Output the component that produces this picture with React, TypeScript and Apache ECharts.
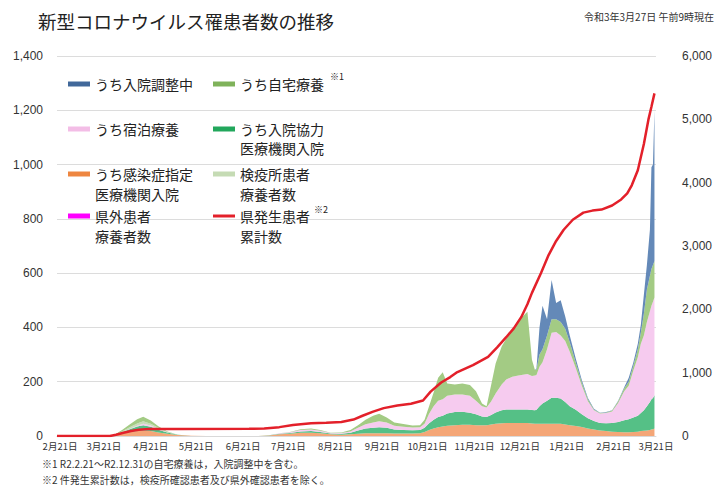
import React, { useEffect, useRef } from 'react';
import * as echarts from 'echarts';

// ---- data ----
const sampleDates = [
  '2020-02-19','2020-03-24','2020-03-28','2020-04-02','2020-04-07','2020-04-12','2020-04-16','2020-04-21','2020-04-26','2020-05-02',
  '2020-05-09','2020-05-18','2020-05-28','2020-07-01','2020-07-08','2020-07-15','2020-07-22','2020-07-29','2020-08-05','2020-08-11',
  '2020-08-18','2020-08-25','2020-08-31','2020-09-05','2020-09-10','2020-09-15','2020-09-19','2020-09-24','2020-09-29','2020-10-05',
  '2020-10-11','2020-10-16','2020-10-19','2020-10-22','2020-10-25','2020-10-28','2020-10-31','2020-11-03','2020-11-08','2020-11-13',
  '2020-11-18','2020-11-22','2020-11-26','2020-11-29','2020-12-02','2020-12-05','2020-12-09','2020-12-12','2020-12-16','2020-12-20',
  '2020-12-23','2020-12-26','2020-12-29','2020-12-31','2021-01-01','2021-01-03','2021-01-05','2021-01-08','2021-01-11','2021-01-14',
  '2021-01-17','2021-01-20','2021-01-23','2021-01-27','2021-01-31','2021-02-04','2021-02-08','2021-02-12','2021-02-16','2021-02-20',
  '2021-02-24','2021-02-28','2021-03-03','2021-03-06','2021-03-09','2021-03-11','2021-03-13','2021-03-15','2021-03-17','2021-03-18',
  '2021-03-19','2021-03-20'
];

// うち感染症指定医療機関入院
const kansenshoShitei = [
  0,0,3,8,14,18,20,18,13,8,
  4,1,0,0,2,6,8,12,12,10,
  6,5,6,8,10,10,10,10,9,9,
  9,10,15,22,28,32,35,38,40,41,
  41,40,40,40,42,45,47,48,48,48,
  48,48,46,45,45,45,45,45,45,45,
  45,42,40,37,33,28,24,20,18,16,
  15,14,14,15,16,18,19,20,22,24,
  25,28
];
// うち入院協力医療機関入院
const nyuinKyoryoku = [
  0,0,1,6,11,17,20,16,10,5,
  1,0,0,0,1,2,3,5,6,5,
  3,3,6,12,18,20,22,20,15,13,
  12,12,15,25,32,38,40,45,48,48,
  45,40,32,30,35,42,48,50,50,50,
  50,50,50,50,52,65,75,85,96,96,
  93,83,70,60,47,37,31,28,29,32,
  37,44,48,53,59,67,76,90,103,111,
  115,122
];
// うち宿泊療養
const shukuhaku = [
  0,0,0,0,1,3,5,5,3,1,
  0,0,0,0,0,2,3,5,6,4,
  2,3,5,10,15,20,22,20,14,12,
  10,10,15,35,50,60,60,65,65,64,
  62,50,38,35,50,70,95,110,120,125,
  128,130,125,128,128,145,152,190,239,242,
  232,225,200,153,105,63,40,35,38,42,
  70,107,123,172,215,255,275,310,335,345,
  355,360
];
// 検疫所患者療養者数
const kenekijo = [
  0,0,0,3,6,8,9,6,4,1,
  0,0,0,0,0,0,0,0,0,0,
  0,0,0,0,0,0,0,0,0,0,
  0,0,0,0,0,0,0,0,0,0,
  0,0,0,0,0,0,0,0,0,0,
  0,0,0,0,0,0,0,0,0,0,
  0,0,0,0,0,0,0,0,0,0,
  0,0,0,0,0,0,0,0,0,0,
  0,0
];
// 県外患者療養者数 (no visible values)
const kengai: number[] = [];
// うち自宅療養
const jitaku = [
  0,0,1,5,10,16,17,12,6,2,
  0,0,0,0,0,0,1,3,4,3,
  1,2,5,10,17,25,28,18,12,10,
  8,8,15,28,50,85,100,45,37,40,
  40,35,10,5,60,110,140,150,170,200,
  215,230,60,20,20,45,48,50,50,47,
  50,45,35,20,12,7,3,2,2,4,
  6,10,15,18,30,40,80,120,130,135,
  135,135
];
// うち入院調整中
const chouseichu = [
  0,0,0,0,0,0,0,0,0,0,
  0,0,0,0,0,0,0,0,0,0,
  0,0,0,0,0,0,0,0,0,0,
  0,0,0,0,0,0,0,0,0,0,
  0,0,0,0,0,0,0,0,0,0,
  0,0,0,0,5,100,160,60,145,60,
  80,45,25,15,8,5,2,1,1,1,
  2,5,15,12,20,30,70,90,170,375,
  370,555
];

// 県発生患者累計数 (right axis)
const cumDates = [
  '2020-02-19','2020-03-25','2020-03-29','2020-04-03','2020-04-08','2020-04-13','2020-04-20','2020-05-10','2020-06-25','2020-07-05',
  '2020-07-15','2020-07-24','2020-08-05','2020-08-15','2020-08-25','2020-09-02','2020-09-08','2020-09-15','2020-09-22','2020-10-01',
  '2020-10-10','2020-10-18','2020-10-23','2020-10-30','2020-11-05','2020-11-09','2020-11-20','2020-11-30','2020-12-06','2020-12-12',
  '2020-12-17','2020-12-22','2020-12-26','2020-12-29','2021-01-04','2021-01-09','2021-01-14','2021-01-19','2021-01-25','2021-02-01',
  '2021-02-07','2021-02-13','2021-02-20','2021-02-26','2021-03-02','2021-03-05','2021-03-09','2021-03-13','2021-03-16','2021-03-18',
  '2021-03-20'
];
const cumValues = [
  0,1,20,50,80,100,110,112,113,118,
  140,175,200,210,222,260,320,385,440,480,
  510,560,700,845,930,1000,1120,1250,1400,1560,
  1700,1880,2080,2260,2575,2857,3080,3256,3415,3527,
  3559,3575,3639,3735,3830,3958,4197,4612,4995,5200,
  5410
];

const xTickDates = [
  '2020-02-21','2020-03-21','2020-04-21','2020-05-21','2020-06-21','2020-07-21','2020-08-21',
  '2020-09-21','2020-10-21','2020-11-21','2020-12-21','2021-01-21','2021-02-21','2021-03-21'
];
const xRange = ['2020-02-19', '2021-03-21'];

const JP = "'Noto Sans CJK JP', 'Noto Sans', sans-serif";
const NUM = "'Liberation Sans', Arial, sans-serif";

const toTs = (s: string) => {
  const [y, m, d] = s.split('-').map(Number);
  return new Date(y, m - 1, d).getTime();
};

// fill colours of the stacked areas
const COLORS: Record<string, string> = {
  'うち入院調整中': '#6489b8',
  'うち自宅療養': '#a3cb84',
  'うち宿泊療養': '#f6cbef',
  'うち入院協力医療機関入院': '#55c086',
  'うち感染症指定医療機関入院': '#f4a677',
  '検疫所患者療養者数': '#c8ddb9',
  '県外患者療養者数': '#ff00ff',
  '県発生患者累計数': '#e3202a',
};
// legend icon colours
const ICON_COLORS: Record<string, string> = {
  'うち入院調整中': '#41689a',
  'うち自宅療養': '#7fb25a',
  'うち宿泊療養': '#f3bde6',
  'うち入院協力医療機関入院': '#22a75c',
  'うち感染症指定医療機関入院': '#ee8640',
  '検疫所患者療養者数': '#c5dbb4',
  '県外患者療養者数': '#ff00ff',
  '県発生患者累計数': '#e3202a',
};

const FIRST_LINE: Record<string, string> = {
  'うち入院調整中': 'うち入院調整中',
  'うち自宅療養': 'うち自宅療養',
  'うち宿泊療養': 'うち宿泊療養',
  'うち入院協力医療機関入院': 'うち入院協力',
  'うち感染症指定医療機関入院': 'うち感染症指定',
  '検疫所患者療養者数': '検疫所患者',
  '県外患者療養者数': '県外患者',
  '県発生患者累計数': '県発生患者',
};

const legendLayout = [
  { name: 'うち入院調整中', left: 68, cy: 85 },
  { name: 'うち自宅療養', left: 213, cy: 85 },
  { name: 'うち宿泊療養', left: 68, cy: 130 },
  { name: 'うち入院協力医療機関入院', left: 213, cy: 130 },
  { name: 'うち感染症指定医療機関入院', left: 68, cy: 175 },
  { name: '検疫所患者療養者数', left: 213, cy: 175 },
  { name: '県外患者療養者数', left: 68, cy: 217 },
  { name: '県発生患者累計数', left: 213, cy: 217 },
];

const secondLines = [
  { text: '医療機関入院', x: 240, y: 148 },
  { text: '医療機関入院', x: 95, y: 194 },
  { text: '療養者数', x: 240, y: 194 },
  { text: '療養者数', x: 95, y: 236 },
  { text: '累計数', x: 240, y: 236 },
];

// value first (stacked dimension), date second; encode maps them to y / x
function areaSeries(name: string, values: number[]) {
  return {
    name,
    type: 'line',
    stack: 'total',
    color: COLORS[name],
    symbol: 'none',
    showSymbol: false,
    lineStyle: { width: 0 },
    areaStyle: { color: COLORS[name], opacity: 1 },
    encode: { x: 1, y: 0 },
    data: values.map((v, i) => [v, toTs(sampleDates[i])]),
    z: 2,
  };
}

export default function App() {
  const ref = useRef<HTMLDivElement>(null);
  useEffect(() => {
    if (!ref.current) return;
    const chart = echarts.init(ref.current, null, { renderer: 'svg' });
    const legends = legendLayout.map((l) => ({
      left: l.left,
      top: l.cy - 8,
      padding: 0,
      orient: 'horizontal',
      icon: 'rect',
      itemWidth: 22,
      itemHeight: l.name === '県発生患者累計数' ? 3 : 5,
      itemStyle: { borderWidth: 0 },
      selectedMode: false,
      data: [{ name: l.name, itemStyle: { color: ICON_COLORS[l.name], borderWidth: 0 } }],
      formatter: (n: string) => FIRST_LINE[n] || n,
      textStyle: { fontSize: 14, color: '#222', fontFamily: JP },
    }));
    const ticks = xTickDates.map(toTs);
    const option: any = {
      animation: false,
      textStyle: { fontFamily: JP },
      title: {
        text: '新型コロナウイルス罹患者数の推移',
        left: 38,
        top: 12,
        padding: 0,
        textStyle: { fontSize: 18.5, fontWeight: 'normal', color: '#222', fontFamily: JP },
      },
      legend: legends,
      grid: { left: 57, right: 41, top: 56, bottom: 51, containLabel: false },
      xAxis: {
        type: 'value',
        min: toTs(xRange[0]),
        max: toTs(xRange[1]),
        axisLine: { show: true, onZero: false, lineStyle: { color: '#d9d9d9', width: 1 } },
        axisTick: { show: false, customValues: ticks },
        splitLine: { show: false },
        axisLabel: {
          customValues: ticks,
          formatter: (v: number) => {
            const d = new Date(v);
            return `${d.getMonth() + 1}月${d.getDate()}日`;
          },
          fontSize: 9.5,
          color: '#333',
          margin: 5,
          hideOverlap: false,
          fontFamily: JP,
        },
      },
      yAxis: [
        {
          type: 'value',
          min: 0,
          max: 1400,
          interval: 200,
          axisLine: { show: false },
          axisTick: { show: false },
          splitLine: { lineStyle: { color: '#dcdcdc', width: 1 } },
          axisLabel: {
            formatter: (v: number) => v.toLocaleString('en-US'),
            fontSize: 12,
            color: '#333',
            margin: 14,
            fontFamily: NUM,
          },
        },
        {
          type: 'value',
          min: 0,
          max: 6000,
          interval: 1000,
          position: 'right',
          axisLine: { show: false },
          axisTick: { show: false },
          splitLine: { show: false },
          axisLabel: {
            formatter: (v: number) => v.toLocaleString('en-US'),
            fontSize: 12,
            color: '#333',
            margin: 26,
            fontFamily: NUM,
          },
        },
      ],
      series: [
        areaSeries('うち感染症指定医療機関入院', kansenshoShitei),
        areaSeries('うち入院協力医療機関入院', nyuinKyoryoku),
        areaSeries('うち宿泊療養', shukuhaku),
        areaSeries('検疫所患者療養者数', kenekijo),
        areaSeries('県外患者療養者数', kengai),
        areaSeries('うち自宅療養', jitaku),
        areaSeries('うち入院調整中', chouseichu),
        {
          name: '県発生患者累計数',
          type: 'line',
          yAxisIndex: 1,
          color: COLORS['県発生患者累計数'],
          symbol: 'none',
          showSymbol: false,
          lineStyle: { width: 2.5, color: COLORS['県発生患者累計数'] },
          data: cumDates.map((d, i) => [toTs(d), cumValues[i]]),
          z: 5,
        },
      ],
      graphic: [
        ...secondLines.map((s) => ({
          type: 'text',
          x: s.x,
          y: s.y,
          style: { text: s.text, fontSize: 14, fill: '#222', fontFamily: JP, verticalAlign: 'middle' },
        })),
        {
          type: 'text', x: 330, y: 76,
          style: { text: '※1', fontSize: 9, fill: '#222', fontFamily: JP, verticalAlign: 'middle' },
        },
        {
          type: 'text', x: 314, y: 209,
          style: { text: '※2', fontSize: 9, fill: '#222', fontFamily: JP, verticalAlign: 'middle' },
        },
        {
          type: 'text', x: 714, y: 16,
          style: { text: '令和3年3月27日 午前9時現在', fontSize: 10, fill: '#333', fontFamily: JP, align: 'right', verticalAlign: 'middle' },
        },
        {
          type: 'text', x: 42, y: 463,
          style: { text: '※1 R2.2.21～R2.12.31の自宅療養は，入院調整中を含む。', fontSize: 10, fill: '#333', fontFamily: JP, verticalAlign: 'middle' },
        },
        {
          type: 'text', x: 42, y: 479,
          style: { text: '※2 件発生累計数は，検疫所確認患者及び県外確認患者を除く。', fontSize: 10, fill: '#333', fontFamily: JP, verticalAlign: 'middle' },
        },
      ],
    };
    chart.setOption(option);
    return () => chart.dispose();
  }, []);
  return (
    <div
      ref={ref}
      style={{ position: 'absolute', left: 0, top: 0, width: 715, height: 487, background: '#fff' }}
    />
  );
}
